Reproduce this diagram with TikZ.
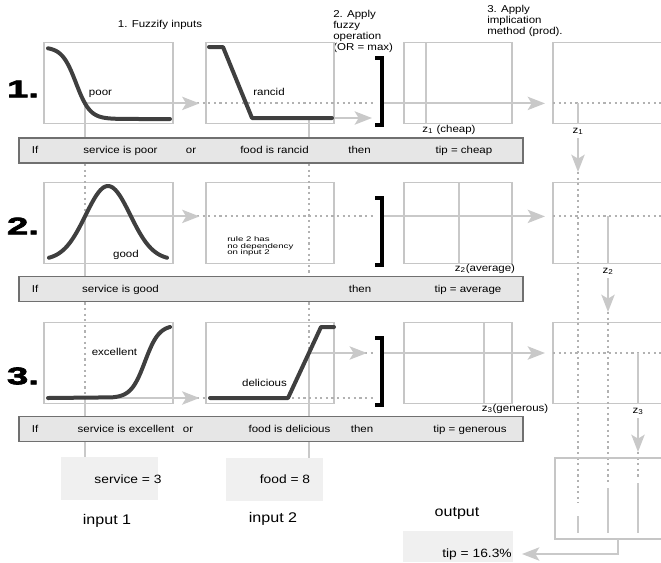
\documentclass[tikz,border=0pt]{standalone}
\usepackage{fontspec}
\setmainfont[FakeStretch=1.15]{Liberation Sans}
\newfontfamily\notefont[FakeStretch=1.45]{Liberation Sans}
\newfontfamily\rulenofont[FakeStretch=1.6,FakeBold=3]{Liberation Sans}
\usepackage{tikz}
\usetikzlibrary{arrows.meta}
\definecolor{boxgrey}{HTML}{C6C6C6}
\definecolor{curvegrey}{HTML}{3F3F3F}
\definecolor{linkgrey}{HTML}{C9C9C9}
\definecolor{dotgrey}{HTML}{B2B2B2}
\definecolor{bargrey}{HTML}{707070}
\definecolor{barfill}{HTML}{E6E6E6}
\definecolor{valfill}{HTML}{F0F0F0}

\begin{document}
\begin{tikzpicture}[x=0.75pt,y=-0.75pt,
  mfbox/.style={draw=boxgrey,line width=0.8pt,minimum height=60.75pt,inner sep=0pt},
  mfcurve/.style={curvegrey,line width=3pt,line cap=round,line join=round},
  link/.style={linkgrey,line width=1.5pt},
  linkarrow/.style={link,-{Stealth[length=13pt,width=10pt,inset=3pt]}},
  guide/.style={dotgrey,line width=1.4pt,dash pattern=on 1.6pt off 2.6pt},
  rulebar/.style={draw=bargrey,fill=barfill,line width=1.2pt,minimum width=378pt,minimum height=19pt,inner sep=0pt},
  lbl/.style={font=\fontsize{7.5}{9}\selectfont,inner sep=0pt,anchor=base},
  steptext/.style={font=\fontsize{7.5}{8.2}\selectfont,align=left,anchor=north west,inner sep=0pt},
  rulenum/.style={font=\rulenofont\bfseries\fontsize{18}{18}\selectfont,inner sep=0pt},
  valbox/.style={fill=valfill,inner sep=0pt},
  valtext/.style={font=\fontsize{9}{10}\selectfont,inner sep=0pt,anchor=base},
  colname/.style={font=\fontsize{10.5}{12}\selectfont,inner sep=0pt}]
\useasboundingbox (0,0) rectangle (661,562);

% step titles
\node[lbl] (fuzzify) at (160,27) {1. Fuzzify inputs};
\node[steptext] (applyop) at (333,10) {2. Apply\\fuzzy\\operation\\(OR = max)};
\node[steptext] (applyimp) at (487,5) {3. Apply\\implication\\method (prod).};

\node[rulenum] (no1) at (23,89) {1.};
\node[rulenum] (no2) at (23,226) {2.};
\node[rulenum] (no3) at (23,376) {3.};

% boxes and brackets
\foreach \r/\y in {1/83,2/223,3/363}{
  \node[mfbox,minimum width=96.75pt] (in1r\r) at (108.5,\y) {};
  \node[mfbox,minimum width=96pt] (in2r\r) at (270,\y) {};
  \node[mfbox,minimum width=81pt] (outr\r) at (458,\y) {};
  \draw[boxgrey,line width=0.8pt] (661,\y-40.5) -- (553,\y-40.5) -- (553,\y+40.5) -- (661,\y+40.5);
  \draw[line width=2.6pt] (375,\y-25) -- (382,\y-25) -- (382,\y+42) -- (375,\y+42);
}

% rule bars
\node[rulebar] (bar1) at (271,150.5) {};
\node[rulebar] (bar2) at (271,289) {};
\node[rulebar] (bar3) at (271,429) {};

% input and output values
\node[valbox,minimum width=72.75pt,minimum height=32.25pt] (svcbox) at (109.5,478.5) {};
\node[valbox,minimum width=72.75pt,minimum height=32.25pt] (foodbox) at (274.5,479.5) {};
\node[valbox,minimum width=82.5pt,minimum height=23.25pt] (tipbox) at (458,546.5) {};
\node[valtext] (svc) at (128,483) {service = 3};
\node[valtext] (food) at (285,483) {food = 8};
\node[valtext] (tip) at (477,557) {tip = 16.3\%};
\node[colname] (inp1) at (107,521) {input 1};
\node[colname] (inp2) at (273,519) {input 2};
\node[colname] (outp) at (457,513) {output};

% where the inputs meet the curves
\coordinate (svc1) at (85,103.4);
\coordinate (svc2) at (85,216.4);
\coordinate (svc3) at (85,398);
\coordinate (fd1) at (309,118);
\coordinate (fd3) at (309,353);
\coordinate (br1) at (374,103.4);
\coordinate (br2) at (374,216.4);
\coordinate (br3) at (374,353);

\draw[link] (svc1) -- (svc1 |- bar1.north);
\draw[guide] (svc1 |- bar1.south) -- (svc2);
\draw[link] (svc2) -- (svc2 |- bar2.north);
\draw[guide] (svc2 |- bar2.south) -- (svc3);
\draw[link] (svc3) -- (svc3 |- bar3.north);
\draw[link] (svc3 |- bar3.south) -- (svc3 |- svcbox.north);
\draw[link] (fd1) -- (fd1 |- bar1.north);
\draw[guide] (fd1 |- bar1.south) -- (fd1 |- bar2.north);
\draw[guide] (fd1 |- bar2.south) -- (fd3);
\draw[link] (fd3) -- (fd3 |- bar3.north);
\draw[link] (fd3 |- bar3.south) -- (fd3 |- foodbox.north);

\draw[guide] (svc1) -- (br1);
\draw[linkarrow,shorten >=4.5pt] (svc1) -- (svc1 -| in2r1.west);
\draw[linkarrow,shorten >=1.5pt] (fd1) -- (fd1 -| br1);
\draw[guide] (svc2) -- (br2);
\draw[linkarrow,shorten >=4.5pt] (svc2) -- (svc2 -| in2r2.west);
\draw[guide] (svc3) -- (svc3 -| br3);
\draw[linkarrow,shorten >=4.5pt] (svc3) -- (svc3 -| in2r3.west);
\draw[guide] (fd3) -- (br3);
\draw[linkarrow,shorten >=5.3pt] (fd3) -- (br3);

% implication and aggregation
\foreach \r/\y/\lv/\z/\w in {1/83/103.4/426/578,2/223/216.4/459/608,3/363/353/484/638}{
  \coordinate (op\r) at (384,\lv);
  \coordinate (ag\r) at (553,\lv);
  \coordinate (zo\r) at (\w,\lv);
  \draw[link,line width=1.2pt] (\z,\y-40.5) -- (\z,\y+40.5);
  \draw[linkarrow,shorten >=6pt] (op\r) -- (ag\r);
  \draw[guide] (ag\r) -- (661,\lv);
  \draw[link] (zo\r) -- (\w,\y+40.5);
  \node[lbl] (zl\r) at (\w,\y+50) {z\textsubscript{\r}};
  \draw[linkarrow] (\w,\y+55) -- (\w,\y+89);
}
\node[lbl] (zc1) at (449,132) {z\textsubscript{1} (cheap)};
\node[lbl] (zc2) at (485,271) {z\textsubscript{2}(average)};
\node[lbl] (zc3) at (515,411) {z\textsubscript{3}(generous)};

\draw[guide] (578,172) -- (578,503);
\draw[link] (578,516) -- (578,533);
\draw[guide] (608,312) -- (608,484);
\draw[link] (608,488) -- (608,533);
\draw[guide] (638,452) -- (638,477);
\draw[link] (638,483) -- (638,533);
\draw[boxgrey,line width=0.8pt] (661,458) -- (555,458) -- (555,539) -- (661,539);
\coordinate (aggout) at (618,539);
\coordinate (tipin) at (522,554);
\draw[linkarrow] (aggout) |- (tipin);

% membership functions
\draw[mfcurve] plot[domain=48:170,samples=70,smooth] (\x,{47+72/(1+exp(-(\x-76)/7))});
\draw[mfcurve] (209,47) -- (223,47) -- (252,118) -- (332,118);
\draw[mfcurve] plot[domain=49:167,samples=70,smooth] (\x,{260-74*exp(-((\x-108)^2)/1000)});
\draw[mfcurve] (48,398) -- plot[domain=112:170,samples=50,smooth] (\x,{398-73/(1+exp(-(\x-145)/7))});
\draw[mfcurve] (210,398) -- (288,398) -- (321,327) -- (334,327);
\node[lbl] (poor) at (100.5,95.5) {poor};
\node[lbl] (rancid) at (269,95) {rancid};
\node[lbl] (good) at (126,257) {good};
\node[lbl] (excellent) at (114.5,355) {excellent};
\node[lbl] (delicious) at (264.5,386) {delicious};
\node[font=\notefont\fontsize{5}{5}\selectfont,align=left,anchor=west,inner sep=0pt] (nodep) at (227,246.5) {rule 2 has\\no dependency\\on input 2};

% rule texts
\node[lbl] (if1) at (35,153.5) {If};
\node[lbl] (svcpoor) at (120.5,153.5) {service is poor};
\node[lbl] (or1) at (191,153.5) {or};
\node[lbl] (foodrancid) at (274.5,153.5) {food is rancid};
\node[lbl] (then1) at (359.5,153.5) {then};
\node[lbl] (tipcheap) at (464,153.5) {tip = cheap};
\node[lbl] (if2) at (35,292) {If};
\node[lbl] (svcgood) at (120.5,292) {service is good};
\node[lbl] (then2) at (360,292) {then};
\node[lbl] (tipavg) at (468,292) {tip = average};
\node[lbl] (if3) at (35,432) {If};
\node[lbl] (svcexc) at (126,432) {service is excellent};
\node[lbl] (or3) at (188,432) {or};
\node[lbl] (fooddel) at (289.5,432) {food is delicious};
\node[lbl] (then3) at (362,432) {then};
\node[lbl] (tipgen) at (470,432) {tip = generous};
\end{tikzpicture}
\end{document}
